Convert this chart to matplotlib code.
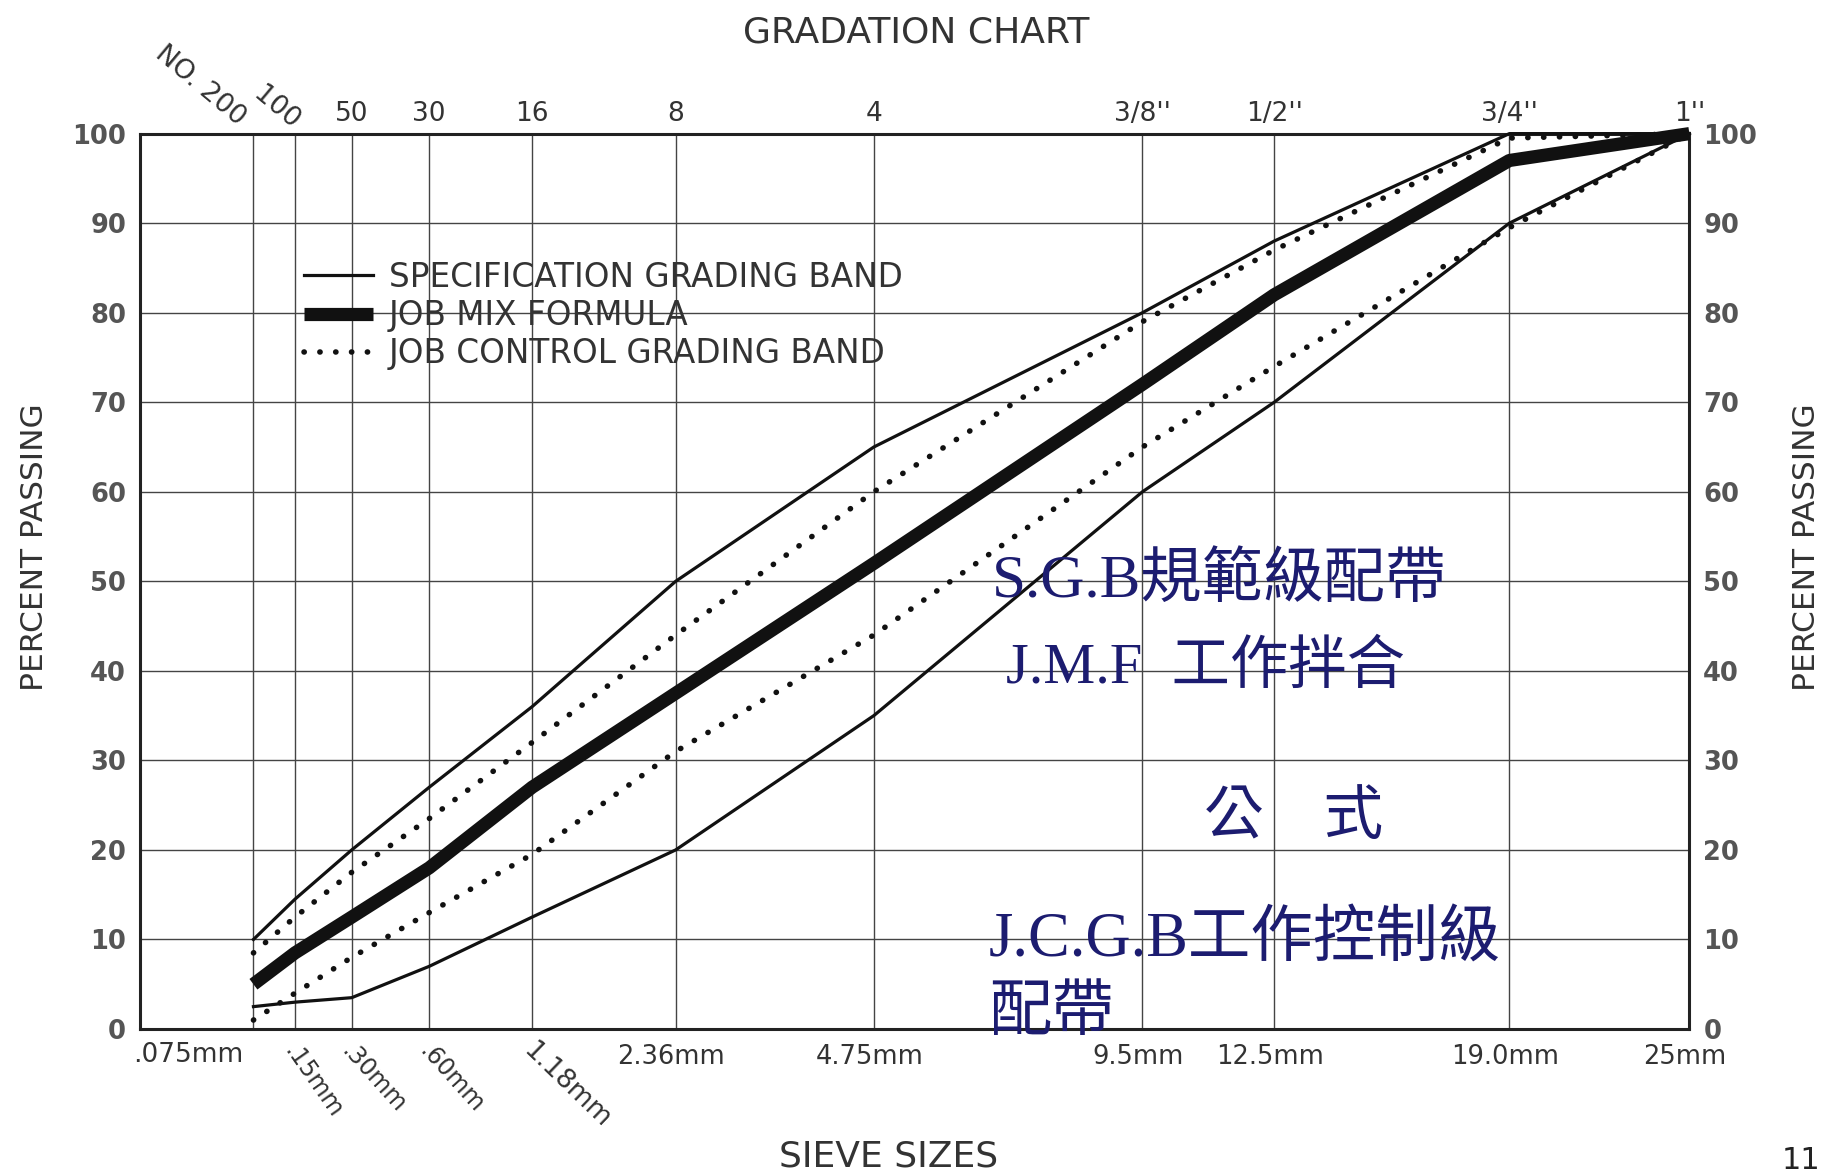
import matplotlib
matplotlib.use('Agg')
import matplotlib.pyplot as plt
import numpy as np

plt.rcParams['font.family'] = ['DejaVu Sans']

# sieve openings in mm (0.45 power gradation chart)
sieves = [0.075, 0.15, 0.3, 0.6, 1.18, 2.36, 4.75, 9.5, 12.5, 19.0, 25.0]
top_labels = ['NO. 200', '100', '50', '30', '16', '8', '4',
              "3/8''", "1/2''", "3/4''", "1''"]
bottom_labels = ['.075mm', '.15mm', '.30mm', '.60mm', '1.18mm', '2.36mm',
                 '4.75mm', '9.5mm', '12.5mm', '19.0mm', '25mm']
percent_ticks = [0, 10, 20, 30, 40, 50, 60, 70, 80, 90, 100]

# percent passing read at each sieve
spec_upper = [10, 14.5, 20, 27, 36, 50, 65, 80, 88, 100, 100]
spec_lower = [2.5, 3, 3.5, 7, 12.5, 20, 35, 60, 70, 90, 100]
jmf = [5, 8.5, 12.5, 18, 27, 37.5, 52, 72, 82, 97, 100]
ctrl_upper = [8.5, 12.5, 17.5, 23.5, 32, 44, 60, 79, 87, 99.5, 100]
ctrl_lower = [1, 4, 8, 13, 19.5, 31, 44, 65, 74, 89.5, 100]

ink = '#333333'
navy = '#1c1c70'


def fwd(x):
    return np.power(np.clip(x, 0, None), 0.45)


def inv(y):
    return np.power(np.clip(y, 0, None), 1 / 0.45)


fig = plt.figure(figsize=(18.25, 11.72), dpi=100)
ax = fig.add_axes([0.0767, 0.122, 0.849, 0.764])
ax.set_xscale('function', functions=(fwd, inv))
ax.set_xlim(0, 25)
ax.set_ylim(0, 100)

# grid
ax.set_xticks(sieves)
ax.set_xticklabels([])
ax.set_yticks(percent_ticks)
ax.grid(True, color='#444444', lw=1.0)
ax.set_axisbelow(True)
ax.tick_params(axis='x', length=0)
ax.tick_params(axis='y', length=0, labelright=True, pad=10,
               labelsize=18.5, labelcolor='#555555')
for lab in ax.get_yticklabels():
    lab.set_fontweight('bold')
for sp in ax.spines.values():
    sp.set_linewidth(2.2)
    sp.set_color('#222222')

# curves
dots = (0, (0.05, 2.8))
ax.plot(sieves, spec_upper, color='#111111', lw=2.3, clip_on=False,
        label='SPECIFICATION GRADING BAND', zorder=3)
ax.plot(sieves, spec_lower, color='#111111', lw=2.3, clip_on=False, zorder=3)
ax.plot(sieves, jmf, color='#111111', lw=9.5, clip_on=False,
        solid_capstyle='butt', label='JOB MIX FORMULA', zorder=4)
ax.plot(sieves, ctrl_upper, color='#111111', lw=4.0, clip_on=False,
        linestyle=dots, dash_capstyle='round',
        label='JOB CONTROL GRADING BAND', zorder=3)
ax.plot(sieves, ctrl_lower, color='#111111', lw=4.0, clip_on=False,
        linestyle=dots, dash_capstyle='round', zorder=3)

leg = ax.legend(loc='upper left', bbox_to_anchor=(0.106, 0.858), frameon=False,
                fontsize=23.5, handlelength=2.1, handletextpad=0.5,
                labelspacing=0.16, borderaxespad=0, borderpad=0)
for t in leg.get_texts():
    t.set_color(ink)

# sieve number labels on top
top_shift = [(-14, 2), (-5, -1)]
for i, (s, lab) in enumerate(zip(sieves, top_labels)):
    if i < 2:
        ax.annotate(lab, xy=(s, 1), xycoords=('data', 'axes fraction'),
                    xytext=top_shift[i], textcoords='offset points',
                    rotation=-40, rotation_mode='anchor', ha='right', va='bottom',
                    fontsize=19.5, color=ink)
    else:
        ax.annotate(lab, xy=(s, 1), xycoords=('data', 'axes fraction'),
                    xytext=(0, 5), textcoords='offset points',
                    ha='center', va='bottom', fontsize=19, color=ink)

# sieve size labels at the bottom
bottom_rot = [0, -55, -48, -48, -44]
for i, (s, lab) in enumerate(zip(sieves, bottom_labels)):
    if i == 0:
        ax.annotate(lab, xy=(s, 0), xycoords=('data', 'axes fraction'),
                    xytext=(-7, -9), textcoords='offset points',
                    ha='right', va='top', fontsize=19, color=ink)
    elif i < 5:
        ax.annotate(lab, xy=(s, 0), xycoords=('data', 'axes fraction'),
                    xytext=(-4, -13), textcoords='offset points',
                    rotation=bottom_rot[i], rotation_mode='anchor',
                    ha='left', va='center',
                    fontsize=17 if i < 4 else 19, color=ink)
    else:
        ax.annotate(lab, xy=(s, 0), xycoords=('data', 'axes fraction'),
                    xytext=(-3, -11), textcoords='offset points',
                    ha='center', va='top', fontsize=18.5, color=ink)

fig.text(0.502, 0.972, 'GRADATION CHART', ha='center', va='center',
         fontsize=26, color=ink)
fig.text(0.487, 0.013, 'SIEVE SIZES', ha='center', va='center',
         fontsize=26, color=ink)
fig.text(0.019, 0.533, 'PERCENT PASSING', rotation=90, ha='center', va='center',
         fontsize=22.5, color=ink)
fig.text(0.990, 0.533, 'PERCENT PASSING', rotation=90, ha='center', va='center',
         fontsize=22.5, color=ink)
fig.text(0.976, 0.01, '11', ha='left', va='center', fontsize=22, color='#222222')

# Chinese annotations
cjk = ['Liberation Serif', 'Noto Sans CJK TC']
ax.text(0.550, 0.500, 'S.G.B規範級配帶', transform=ax.transAxes, ha='left',
        va='center', fontsize=44, color=navy, family=cjk)
ax.text(0.559, 0.403, 'J.M.F  工作拌合', transform=ax.transAxes, ha='left',
        va='center', fontsize=42, color=navy, family=cjk)
ax.text(0.687, 0.234, '公\u3000式', transform=ax.transAxes, ha='left',
        va='center', fontsize=43, color=navy, family=cjk)
ax.text(0.548, 0.098, 'J.C.G.B工作控制級', transform=ax.transAxes, ha='left',
        va='center', fontsize=45, color=navy, family=cjk)
ax.text(0.548, 0.016, '配帶', transform=ax.transAxes, ha='left',
        va='center', fontsize=45, color=navy, family=cjk)

fig.savefig('out.png', dpi=100, facecolor='white')
